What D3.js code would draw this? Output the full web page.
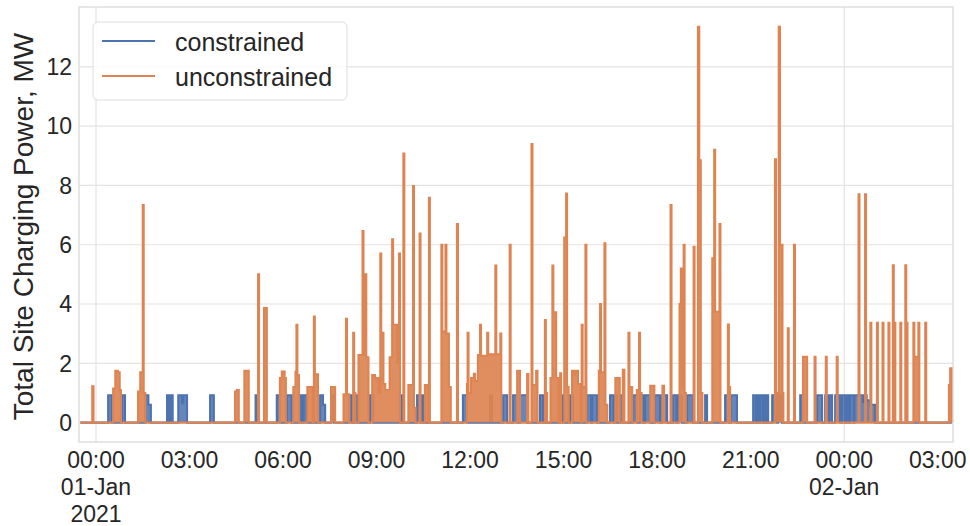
<!DOCTYPE html>
<html>
<head>
<meta charset="utf-8">
<script src="https://cdn.jsdelivr.net/npm/d3@7"></script>
<style>
  html, body { margin: 0; padding: 0; background: #ffffff; }
  svg { display: block; }
  text { font-family: "Liberation Sans", Arial, sans-serif; fill: #262626; }
</style>
</head>
<body>
<svg id="chart" width="970" height="526"></svg>
<script>
// ---------------- DATA (hours since 01-Jan-2021 00:00, MW) ----------------
const seriesNames = ["constrained", "unconstrained"];
const seriesSpan = [-0.5, 27.45];

// unconstrained: [start hour, end hour, MW]
const unconstrainedSegments = [
  [-0.12, -0.08, 1.22],
  [0.55, 0.62, 1.15], [0.62, 0.70, 1.75], [0.70, 0.76, 1.7], [0.76, 0.80, 1.1],
  [1.35, 1.42, 1.05], [1.42, 1.50, 1.7], [1.50, 1.53, 7.34], [1.53, 1.58, 1.0],
  [4.46, 4.52, 1.05], [4.52, 4.58, 1.1],
  [4.76, 4.90, 1.75],
  [5.20, 5.23, 5.0],
  [5.39, 5.48, 3.86],
  [5.90, 5.96, 1.5], [5.96, 6.05, 1.72], [6.05, 6.09, 1.5],
  [6.33, 6.40, 1.2], [6.40, 6.43, 1.72], [6.43, 6.46, 3.3], [6.46, 6.51, 1.6],
  [6.78, 6.95, 1.2], [6.99, 7.02, 3.58], [7.02, 7.12, 1.63],
  [7.54, 7.67, 1.2],
  [7.94, 8.02, 0.95], [8.02, 8.05, 3.5], [8.05, 8.12, 0.95],
  [8.25, 8.28, 3.03], [8.28, 8.32, 1.0],
  [8.42, 8.55, 2.28], [8.55, 8.58, 6.46], [8.58, 8.64, 2.28], [8.64, 8.67, 5.0], [8.67, 8.74, 2.2],
  [8.86, 8.95, 1.6], [8.95, 9.06, 1.5], [9.06, 9.12, 1.0], [9.12, 9.15, 5.7], [9.15, 9.22, 3.03],
  [9.22, 9.28, 1.3], [9.28, 9.42, 1.1], [9.42, 9.50, 2.2], [9.50, 9.53, 6.18], [9.53, 9.66, 3.3],
  [9.66, 9.72, 2.0], [9.72, 9.75, 5.7],
  [9.86, 9.89, 9.08],
  [10.02, 10.17, 1.27], [10.17, 10.20, 7.98], [10.20, 10.25, 0.5],
  [10.38, 10.41, 6.38],
  [10.55, 10.66, 1.27], [10.68, 10.71, 7.58],
  [11.08, 11.11, 6.0], [11.11, 11.21, 3.07], [11.21, 11.24, 6.0], [11.24, 11.32, 3.0], [11.32, 11.38, 1.2],
  [11.58, 11.61, 6.7],
  [11.90, 11.92, 1.3], [11.92, 11.95, 3.03], [11.95, 12.03, 1.0], [12.03, 12.12, 1.5], [12.12, 12.16, 1.65], [12.16, 12.25, 1.4],
  [12.25, 12.32, 2.28], [12.32, 12.35, 3.3], [12.35, 12.55, 2.25], [12.55, 12.58, 3.03], [12.58, 12.81, 2.3],
  [12.81, 12.84, 5.3], [12.84, 12.97, 2.3], [12.97, 13.00, 3.0],
  [13.27, 13.30, 6.0],
  [13.51, 13.60, 1.75],
  [13.83, 13.87, 1.64],
  [13.97, 14.00, 9.4], [14.00, 14.12, 1.27], [14.12, 14.16, 1.75],
  [14.40, 14.43, 3.46], [14.43, 14.47, 1.0],
  [14.58, 14.64, 1.5], [14.64, 14.67, 5.3], [14.67, 14.76, 3.72], [14.76, 14.84, 1.5],
  [14.89, 14.92, 1.66],
  [15.02, 15.08, 6.24], [15.08, 15.11, 7.73], [15.11, 15.16, 1.2],
  [15.27, 15.33, 1.75], [15.33, 15.40, 1.6], [15.40, 15.46, 1.75], [15.46, 15.55, 1.3],
  [15.58, 15.61, 3.3], [15.61, 15.70, 1.2], [15.70, 15.73, 6.0],
  [16.13, 16.17, 1.75], [16.17, 16.20, 4.0], [16.20, 16.31, 1.7], [16.31, 16.34, 6.05], [16.34, 16.40, 0.6],
  [16.66, 16.80, 1.5], [16.90, 16.95, 1.78],
  [17.08, 17.11, 3.03], [17.11, 17.20, 1.2],
  [17.35, 17.42, 1.1], [17.42, 17.45, 3.03], [17.45, 17.50, 1.0],
  [17.78, 17.91, 1.24],
  [18.17, 18.22, 1.24],
  [18.43, 18.46, 7.34],
  [18.72, 18.76, 4.0], [18.76, 18.81, 5.2], [18.81, 18.85, 1.2], [18.85, 18.88, 6.0], [18.88, 18.92, 1.0],
  [19.17, 19.20, 5.93],
  [19.31, 19.35, 13.35], [19.35, 19.40, 8.85], [19.40, 19.45, 1.0],
  [19.77, 19.83, 5.54], [19.83, 19.86, 9.2], [19.86, 20.00, 3.74], [20.00, 20.03, 6.7],
  [20.27, 20.30, 3.31], [20.30, 20.34, 1.2],
  [21.78, 21.81, 8.88], [21.81, 21.90, 1.0], [21.90, 21.94, 13.35], [21.94, 22.02, 6.0], [22.02, 22.05, 1.0],
  [22.19, 22.22, 3.18],
  [22.39, 22.42, 6.0],
  [22.68, 22.81, 2.22],
  [23.05, 23.08, 2.22], [23.41, 23.44, 2.22], [23.76, 23.79, 2.22],
  [24.46, 24.49, 7.7], [24.67, 24.70, 7.7],
  [24.84, 24.87, 3.37], [25.05, 25.08, 3.37], [25.23, 25.26, 3.37], [25.42, 25.45, 3.37],
  [25.56, 25.59, 5.31], [25.61, 25.64, 3.37], [25.80, 25.83, 3.37],
  [25.96, 25.99, 5.31], [26.00, 26.03, 3.37],
  [26.22, 26.25, 3.37], [26.25, 26.38, 2.22], [26.38, 26.41, 3.37], [26.60, 26.63, 3.37],
  [27.36, 27.40, 1.27], [27.40, 27.45, 1.83]
];

// constrained: [start hour, end hour, MW]
const constrainedSegments = [
  [0.39, 0.51, 0.92], [0.83, 0.93, 0.92], [1.58, 1.68, 0.92], [1.68, 1.76, 0.6],
  [2.28, 2.35, 0.92], [2.39, 2.46, 0.92], [2.64, 2.76, 0.92], [2.76, 2.80, 0.65], [2.80, 2.92, 0.92],
  [3.66, 3.78, 0.92],
  [5.12, 5.19, 0.92], [5.80, 5.90, 0.92], [6.12, 6.28, 0.92], [6.52, 6.60, 0.92], [6.66, 6.76, 0.92],
  [7.19, 7.28, 0.92], [7.28, 7.35, 0.6], [7.55, 7.64, 0.92], [8.12, 8.21, 0.92], [8.30, 8.38, 0.92],
  [8.79, 8.89, 0.92], [9.75, 9.82, 0.92], [10.30, 10.40, 0.92], [10.46, 10.52, 0.92],
  [11.77, 11.90, 0.92], [12.64, 12.70, 0.92], [13.06, 13.19, 0.92], [13.38, 13.51, 0.92],
  [13.60, 13.83, 0.92], [14.24, 14.34, 0.92], [14.89, 14.98, 0.92], [15.21, 15.30, 0.92],
  [15.75, 15.88, 0.92], [15.92, 16.07, 0.92], [16.49, 16.60, 0.92], [16.64, 16.71, 0.92],
  [16.81, 16.91, 0.92], [17.23, 17.36, 0.92], [17.45, 17.55, 0.92], [17.61, 17.77, 0.92],
  [17.93, 18.09, 0.92], [18.16, 18.32, 0.92], [18.51, 18.62, 0.92], [18.66, 18.80, 0.92],
  [18.96, 19.15, 0.92], [19.54, 19.60, 0.92], [20.18, 20.30, 0.92], [20.36, 20.56, 0.92],
  [21.08, 21.16, 0.92], [21.18, 21.24, 0.92], [21.30, 21.38, 0.92], [21.41, 21.48, 0.92],
  [21.50, 21.56, 0.92], [21.69, 21.85, 0.92], [21.88, 22.00, 0.92], [22.59, 22.68, 0.92],
  [23.13, 23.29, 0.92], [23.39, 23.50, 0.92], [23.53, 23.61, 0.92], [23.71, 23.87, 0.92],
  [23.93, 24.03, 0.92], [24.06, 24.13, 0.92], [24.19, 24.30, 0.92], [24.33, 24.60, 0.92],
  [24.60, 24.65, 0.7], [24.65, 24.72, 0.92], [24.72, 24.83, 0.75], [24.83, 24.99, 0.6]
];

const xTickHours = [0, 3, 6, 9, 12, 15, 18, 21, 24, 27];
const xTickLabels = [
  ["00:00", "01-Jan", "2021"], ["03:00"], ["06:00"], ["09:00"], ["12:00"],
  ["15:00"], ["18:00"], ["21:00"], ["00:00", "02-Jan"], ["03:00"]
];
const xGridHours = [0, 24];
const yTicks = [0, 2, 4, 6, 8, 10, 12];
const yLabel = "Total Site Charging Power, MW";

// ---------------- LAYOUT ----------------
const colors = ["#4c72b0", "#dd8452"];
const plot = { left: 79, right: 953, top: 7, bottom: 442 };

const svg = d3.select("#chart");
const x = d3.scaleLinear().domain([-0.545, 27.49]).range([plot.left, plot.right]);
const y = d3.scaleLinear().domain([-0.655, 14.02]).range([plot.bottom, plot.top]);

svg.append("rect").attr("x", 0).attr("y", 0).attr("width", 970).attr("height", 526).attr("fill", "#fff");

// grid
const grid = svg.append("g");
grid.selectAll("line.hy").data(yTicks).join("line")
  .attr("x1", plot.left).attr("x2", plot.right)
  .attr("y1", d => y(d)).attr("y2", d => y(d))
  .attr("stroke", "#e3e3e3").attr("stroke-width", 1.2);
grid.selectAll("line.vx").data(xGridHours).join("line")
  .attr("y1", plot.top).attr("y2", plot.bottom)
  .attr("x1", d => x(d)).attr("x2", d => x(d))
  .attr("stroke", "#e3e3e3").attr("stroke-width", 1.2);

// clip
svg.append("clipPath").attr("id", "clip").append("rect")
  .attr("x", plot.left).attr("y", plot.top)
  .attr("width", plot.right - plot.left).attr("height", plot.bottom - plot.top);

function toPoints(segs) {
  const pts = [[seriesSpan[0], 0]];
  let prevEnd = seriesSpan[0];
  segs.forEach(([s, e, v]) => {
    if (s > prevEnd + 1e-6) { pts.push([prevEnd, 0]); pts.push([s, 0]); }
    pts.push([s, v]); pts.push([e, v]);
    prevEnd = e;
  });
  pts.push([prevEnd, 0]);
  pts.push([seriesSpan[1], 0]);
  return pts;
}

const line = d3.line().x(d => x(d[0])).y(d => y(d[1]));
const area = d3.area().x(d => x(d[0])).y0(y(0)).y1(d => y(d[1]));
const lines = svg.append("g").attr("clip-path", "url(#clip)");
[constrainedSegments, unconstrainedSegments].forEach((segs, i) => {
  const pts = toPoints(segs);
  lines.append("path").datum(pts)
    .attr("d", area).attr("fill", colors[i]).attr("fill-opacity", i === 1 ? 0.92 : 0.85)
    .attr("stroke", "none");
  lines.append("path").datum(pts)
    .attr("d", line).attr("fill", "none")
    .attr("stroke", colors[i]).attr("stroke-width", 2.1)
    .attr("stroke-linejoin", "miter");
});

// frame
svg.append("rect").attr("x", plot.left).attr("y", plot.top)
  .attr("width", plot.right - plot.left).attr("height", plot.bottom - plot.top)
  .attr("fill", "none").attr("stroke", "#d6d6d6").attr("stroke-width", 1.2);

// y tick labels
svg.append("g").selectAll("text").data(yTicks).join("text")
  .attr("x", 72).attr("y", d => y(d)).attr("dy", "0.36em")
  .attr("text-anchor", "end").attr("font-size", 23)
  .text(d => d);

// x tick labels
const xl = svg.append("g").selectAll("g").data(xTickHours).join("g")
  .attr("transform", d => `translate(${x(d)},0)`);
xl.each(function(d, i) {
  const g = d3.select(this);
  xTickLabels[i].forEach((t, j) => {
    g.append("text").attr("x", 0).attr("y", 468 + j * 27)
      .attr("text-anchor", "middle").attr("font-size", 23).text(t);
  });
});

// y label
svg.append("text")
  .attr("transform", `translate(33,${(plot.top + plot.bottom) / 2 + 2}) rotate(-90)`)
  .attr("text-anchor", "middle").attr("font-size", 28)
  .text(yLabel);

// legend
const lg = svg.append("g");
lg.append("rect").attr("x", 93).attr("y", 22).attr("width", 254).attr("height", 78)
  .attr("rx", 5).attr("fill", "#fff").attr("fill-opacity", 0.85)
  .attr("stroke", "#dedede").attr("stroke-width", 1);
seriesNames.forEach((n, i) => {
  const yy = 41 + i * 35;
  lg.append("line").attr("x1", 102).attr("x2", 155).attr("y1", yy).attr("y2", yy)
    .attr("stroke", colors[i]).attr("stroke-width", 2);
  lg.append("text").attr("x", 175).attr("y", yy + 10).attr("font-size", 25).text(n);
});
</script>
</body>
</html>
